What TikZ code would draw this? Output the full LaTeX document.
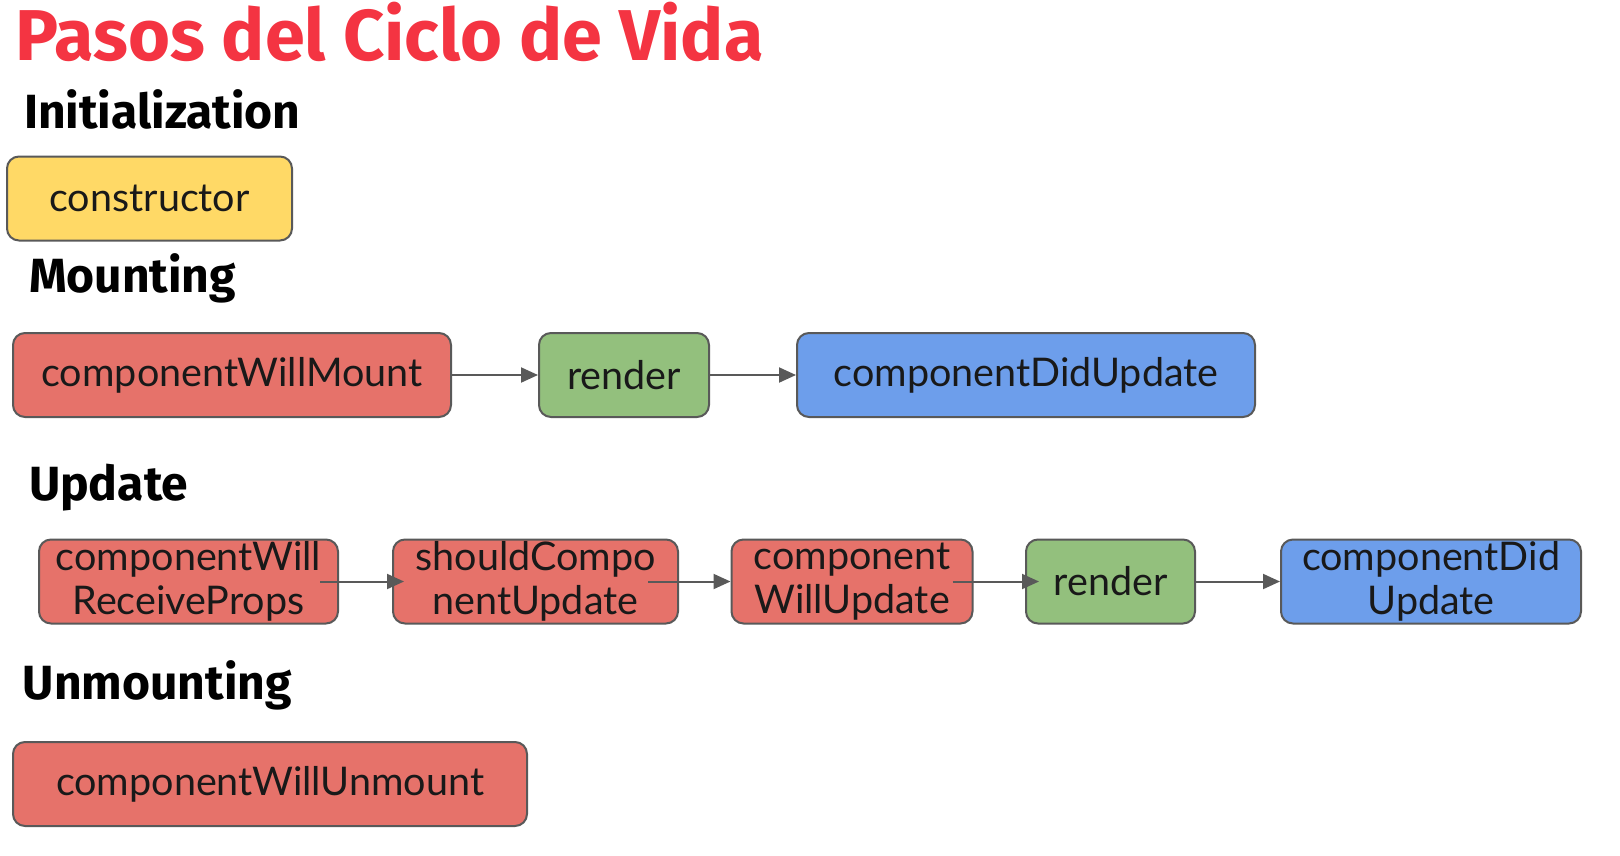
\documentclass[tikz,border=0pt]{standalone}
\usepackage{fontspec}
\usetikzlibrary{positioning, arrows.meta}
\setmainfont{Lato}
\newfontfamily\headfont{Fira Sans}
\definecolor{titlered}{RGB}{244, 52, 66}
\definecolor{boxred}{RGB}{230, 114, 106}
\definecolor{boxgreen}{RGB}{147, 192, 125}
\definecolor{boxblue}{RGB}{109, 158, 235}
\definecolor{boxyellow}{RGB}{255, 217, 102}
\definecolor{edgegray}{RGB}{89, 89, 89}

\begin{document}
\begin{tikzpicture}[x=1pt, y=-1pt, >={Triangle[length=17pt, width=15pt]}, line width=2pt,
    box/.style={draw=edgegray, rounded corners=12pt, minimum height=84pt, inner sep=0pt,
        align=center, text=black!90, font=\fontsize{39.5}{44}\selectfont},
    head/.style={anchor=base west, inner sep=0pt, font=\headfont\bfseries\fontsize{48}{56}\selectfont},
    link/.style={->, edgegray}]
    \useasboundingbox (0,0) rectangle (1620,855);
    \node[head, text=titlered, font=\headfont\bfseries\fontsize{72}{84}\selectfont] (titulo) at (14,60) {Pasos del Ciclo de Vida};

    % Initialization
    \node[head] (hinit) at (23,128) {Initialization};
    \node[box, fill=boxyellow, minimum width=285pt] (ctor) at (149.5,198.5) {constructor};

    % Mounting
    \node[head] (hmount) at (28,292) {Mounting};
    \node[box, fill=boxred, minimum width=438pt] (cwm) at (232,375) {componentWillMount};
    \node[box, fill=boxgreen, minimum width=170pt] (rendm) at (624,375) {render};
    \node[box, fill=boxblue, minimum width=458pt] (cdum) at (1026,375) {componentDidUpdate};
    \draw[link] (cwm) -- (rendm);
    \draw[link] (rendm) -- (cdum);

    % Update
    \node[head] (hupd) at (28,500) {Update};
    \node[box, fill=boxred, minimum width=299pt] (cwrp) at (188.5,581.5) {componentWill\\ReceiveProps};
    \node[box, fill=boxred, minimum width=285pt] (scu) at (535.5,581.5) {shouldCompo\\nentUpdate};
    \node[box, fill=boxred, minimum width=241pt] (cwu) at (852,581.5) {component\\WillUpdate};
    \node[box, fill=boxgreen, minimum width=169pt] (rendu) at (1110.5,581.5) {render};
    \node[box, fill=boxblue, minimum width=300pt] (cduu) at (1431,581.5) {componentDid\\Update};
    \draw[link, shorten <=-19pt, shorten >=-12pt] (cwrp) -- (scu);
    \draw[link, shorten <=-31pt] (scu) -- (cwu);
    \draw[link, shorten <=-21pt, shorten >=-14pt] (cwu) -- (rendu);
    \draw[link] (rendu) -- (cduu);

    % Unmounting
    \node[head] (hunm) at (22,699) {Unmounting};
    \node[box, fill=boxred, minimum width=514pt] (cwun) at (270,784) {componentWillUnmount};
\end{tikzpicture}
\end{document}
